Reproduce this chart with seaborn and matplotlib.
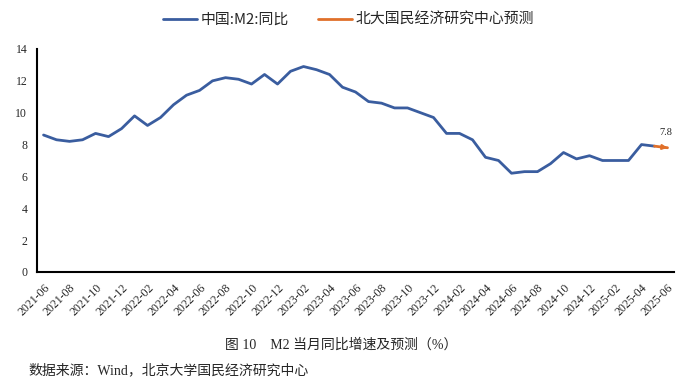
import matplotlib
matplotlib.use("Agg")
import matplotlib.pyplot as plt
import matplotlib.transforms as mtransforms
import seaborn as sns
import pandas as pd
import numpy as np

months = ["2021-06","2021-07","2021-08","2021-09","2021-10","2021-11","2021-12",
          "2022-01","2022-02","2022-03","2022-04","2022-05","2022-06","2022-07","2022-08","2022-09","2022-10","2022-11","2022-12",
          "2023-01","2023-02","2023-03","2023-04","2023-05","2023-06","2023-07","2023-08","2023-09","2023-10","2023-11","2023-12",
          "2024-01","2024-02","2024-03","2024-04","2024-05","2024-06","2024-07","2024-08","2024-09","2024-10","2024-11","2024-12",
          "2025-01","2025-02","2025-03","2025-04","2025-05","2025-06"]
m2_yoy = [8.6, 8.3, 8.2, 8.3, 8.7, 8.5, 9.0,
          9.8, 9.2, 9.7, 10.5, 11.1, 11.4, 12.0, 12.2, 12.1, 11.8, 12.4, 11.8,
          12.6, 12.9, 12.7, 12.4, 11.6, 11.3, 10.7, 10.6, 10.3, 10.3, 10.0, 9.7,
          8.7, 8.7, 8.3, 7.2, 7.0, 6.2, 6.3, 6.3, 6.8, 7.5, 7.1, 7.3,
          7.0, 7.0, 7.0, 8.0, 7.9]
forecast_months = ["2025-05", "2025-06"]
forecast_vals = [7.9, 7.8]
yticks = [0, 2, 4, 6, 8, 10, 12, 14]

name_actual = "中国:M2:同比"
name_fc = "北大国民经济研究中心预测"
caption = "图 10    M2 当月同比增速及预测（%）"
source = "数据来源：Wind，北京大学国民经济研究中心"

sns.set_style("white")
plt.rcParams['font.family'] = ['Liberation Serif', 'Noto Sans CJK SC', 'DejaVu Sans']
plt.rcParams['axes.unicode_minus'] = False

BLUE = "#3A5D9F"
ORANGE = "#E0702A"

idx = {m: i for i, m in enumerate(months)}
df_a = pd.DataFrame({"x": [idx[m] for m in months[:len(m2_yoy)]], "y": m2_yoy})
df_f = pd.DataFrame({"x": [idx[m] for m in forecast_months], "y": forecast_vals})

fig = plt.figure(figsize=(6.86, 3.84), dpi=100)
ax = fig.add_axes([0.054, 0.2917, 0.9285, 0.5807])

sns.lineplot(data=df_a, x="x", y="y", ax=ax, color=BLUE, linewidth=2.0, label=name_actual)
sns.lineplot(data=df_f, x="x", y="y", ax=ax, color=ORANGE, linewidth=2.0, label=name_fc)
ax.annotate("", xy=(df_f["x"].iloc[-1], df_f["y"].iloc[-1]),
            xytext=(df_f["x"].iloc[-2] + 0.5, (df_f["y"].iloc[-2] + df_f["y"].iloc[-1]) / 2),
            arrowprops=dict(arrowstyle="-|>", color=ORANGE, lw=1.5, mutation_scale=7,
                            shrinkA=0, shrinkB=0))
ax.annotate(f"{forecast_vals[-1]:.1f}", xy=(df_f["x"].iloc[-1], df_f["y"].iloc[-1]),
            xytext=(-1, 11), textcoords="offset points", ha="center", va="center",
            fontsize=7.5, family=['Liberation Serif'])

ax.set_xlim(-0.5, len(months) - 0.5)
ax.set_ylim(0, 14)
ax.set_yticks(yticks)
ax.set_yticklabels([str(v) for v in yticks], fontsize=8.5)
lab_pos = list(range(0, len(months), 2))
ax.set_xticks(lab_pos)
ax.set_xticklabels([months[i] for i in lab_pos], rotation=45, ha="right",
                   rotation_mode="anchor", fontsize=8.5)
shift = mtransforms.ScaledTranslation(-5 / 100, 0, fig.dpi_scale_trans)
for lbl in ax.get_xticklabels():
    lbl.set_transform(lbl.get_transform() + shift)
ax.set_xticks(np.arange(-0.5, len(months), 2), minor=True)
ax.tick_params(axis="x", which="major", length=0, pad=7)
ax.tick_params(axis="x", which="minor", length=6, width=1.3, direction="inout", color="black")
ax.tick_params(axis="y", length=4, width=1.3, direction="out", color="black", pad=3)
ax.set_xlabel("")
ax.set_ylabel("")
for s in ["top", "right"]:
    ax.spines[s].set_visible(False)
for s in ["left", "bottom"]:
    ax.spines[s].set_color("black")
    ax.spines[s].set_linewidth(1.5)
ax.grid(False)

leg = ax.legend(loc="center", bbox_to_anchor=(0.508, 1 - 20 / 384), bbox_transform=fig.transFigure,
                ncol=2, frameon=False, handlelength=2.3, columnspacing=2.0,
                handletextpad=0.2, borderaxespad=0, borderpad=0,
                prop={'family': ['Noto Sans CJK SC'], 'size': 10.7})
for line in leg.get_lines():
    line.set_linewidth(2.0)

fig.text(0.497, 1 - 345 / 384, caption, ha="center", va="center", fontsize=10,
         family=['Liberation Serif', 'Noto Sans CJK SC'])
fig.text(28 / 686, 1 - 370 / 384, source, ha="left", va="center", fontsize=10,
         family=['Liberation Serif', 'Noto Sans CJK SC'])

fig.savefig("out.png", dpi=100)
